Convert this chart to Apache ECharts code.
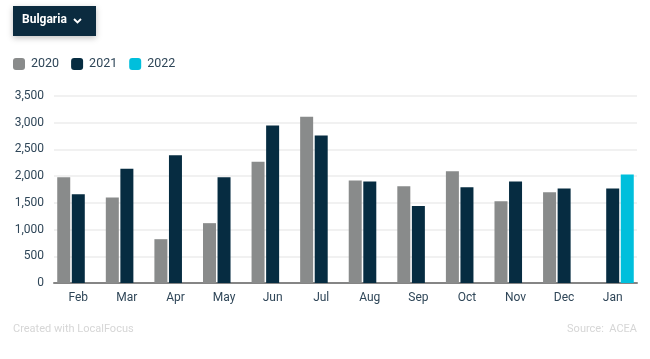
<!DOCTYPE html>
<html>
<head>
<meta charset="utf-8">
<script src="https://cdn.jsdelivr.net/npm/echarts@6/dist/echarts.min.js"></script>
<style>
html,body{margin:0;padding:0;background:#fff;}
#chart{width:650px;height:359px;}
</style>
</head>
<body>
<div id="chart"></div>
<script>
var categories = ['Feb','Mar','Apr','May','Jun','Jul','Aug','Sep','Oct','Nov','Dec','Jan'];
var values2020 = [1980,1600,820,1120,2270,3110,1920,1810,2090,1530,1700,null];
var values2021 = [1660,2140,2390,1980,2950,2760,1900,1440,1790,1900,1770,1770];
var values2022 = [null,null,null,null,null,null,null,null,null,null,null,2030];
var yTicks = [0,500,1000,1500,2000,2500,3000,3500];

var labelColor = '#2f4658';
var chart = echarts.init(document.getElementById('chart'), null, {renderer:'canvas'});
function fmt(v){ return String(v).replace(/\B(?=(\d{3})+(?!\d))/g, ','); }
var barW = 13;
chart.setOption({
  animation:false,
  textStyle:{fontFamily:'Roboto'},
  grid:{left:54, right:13, top:96, bottom:76, containLabel:false},
  legend:{
    left:13, top:57.5, padding:0, itemWidth:12, itemHeight:12, itemGap:12, icon:'roundRect',
    textStyle:{color:labelColor, fontSize:12.5, fontFamily:'Roboto', padding:[0,0,0,1]},
    data:['2020','2021','2022']
  },
  xAxis:{
    type:'category', data:categories,
    axisLine:{lineStyle:{color:'#858585', width:2}},
    axisTick:{show:false},
    axisLabel:{color:labelColor, fontSize:12, margin:9, fontFamily:'Roboto'}
  },
  yAxis:{
    type:'value', min:yTicks[0], max:yTicks[yTicks.length-1], interval:500,
    axisLine:{show:false}, axisTick:{show:false},
    splitLine:{lineStyle:{color:'#ececec', width:1.5}},
    axisLabel:{color:labelColor, fontSize:12, margin:10, fontFamily:'Roboto', formatter:fmt}
  },
  series:[
    {name:'2020', type:'bar', data:values2020, barWidth:barW, barGap:'12%', itemStyle:{color:'#898b8b'}},
    {name:'2021', type:'bar', data:values2021, barWidth:barW, barGap:'12%', itemStyle:{color:'#062c41'}},
    {name:'2022', type:'bar', data:values2022, barWidth:barW, barGap:'12%', itemStyle:{color:'#00bfdc'}}
  ],
  graphic:[
    {type:'rect', left:13, top:6, shape:{width:83, height:30},
     style:{fill:'#0b2b3f', shadowBlur:6, shadowColor:'rgba(0,0,0,0.25)', shadowOffsetY:2}},
    {type:'text', left:22, top:14, style:{text:'Bulgaria', fill:'#ffffff', font:'bold 12px Roboto'}},
    {type:'polyline', shape:{points:[[74,19],[77.5,22.5],[81,19]]},
     style:{stroke:'#ffffff', lineWidth:1.8, fill:null}},
    {type:'text', left:13, top:324, style:{text:'Created with LocalFocus', fill:'#d6d6d6', font:'11px Roboto'}},
    {type:'text', right:13, top:324, style:{text:'Source:  ACEA', fill:'#d6d6d6', font:'11px Roboto'}}
  ]
});
</script>
</body>
</html>
